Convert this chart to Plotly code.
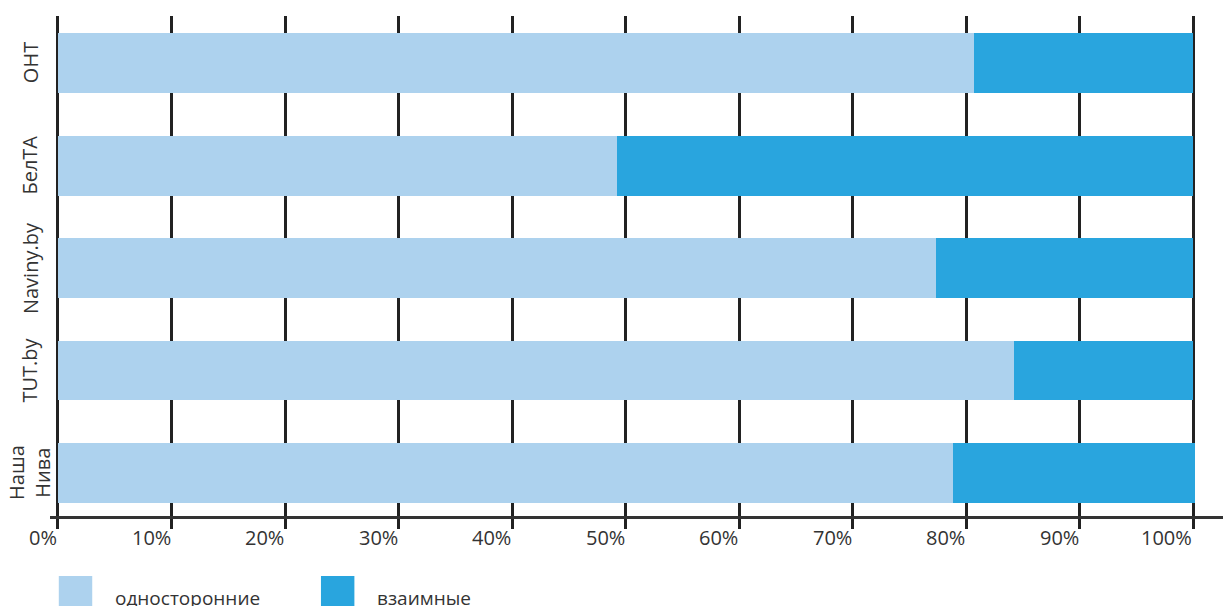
import plotly.graph_objects as go

categories = ["Наша<br>Нива", "TUT.by", "Naviny.by", "БелТА", "ОНТ"]
one_way = [78.8, 84.2, 77.3, 49.2, 80.7]
mutual = [21.3, 15.8, 22.7, 50.8, 19.3]
series_names = ["односторонние", "взаимные"]
colors = ["#ADD2EE", "#29A5DE"]
tick_vals = [0, 10, 20, 30, 40, 50, 60, 70, 80, 90, 100]
tick_text = ["0%", "10%", "20%", "30%", "40%", "50%", "60%", "70%", "80%", "90%", "100%"]

FONT = "Open Sans"
TXT = "#333333"

fig = go.Figure()
for name, vals, col in zip(series_names, [one_way, mutual], colors):
    fig.add_trace(go.Bar(
        y=categories, x=vals, name=name, orientation="h",
        marker=dict(color=col, line=dict(width=0)), showlegend=False,
    ))

# x tick labels right-aligned to tick positions
for v, t in zip(tick_vals, tick_text):
    fig.add_annotation(x=v, y=0, xref="x", yref="paper", text=t, showarrow=False,
                       xanchor="right", yanchor="top", yshift=-6, xshift=1,
                       font=dict(family=FONT, size=20, color=TXT))

# y category labels, rotated and centred
for c in categories:
    fig.add_annotation(x=0, y=c, xref="paper", yref="y", text=c, showarrow=False,
                       textangle=-90, xanchor="center", yanchor="middle", xshift=-20,
                       font=dict(family=FONT, size=20, color=TXT))

# legend drawn manually (large swatches)
legend_x = [0.0075, 0.231]
for name, col, lx in zip(series_names, colors, legend_x):
    fig.add_shape(type="rect", xref="paper", yref="paper",
                  x0=lx, x1=lx + 0.0285, y0=-0.186, y1=-0.12,
                  fillcolor=col, line=dict(width=0))
    fig.add_annotation(x=lx + 0.046, y=-0.164, xref="paper", yref="paper",
                       text=name, showarrow=False, xanchor="left", yanchor="middle",
                       font=dict(family=FONT, size=19, color=TXT))

fig.update_layout(
    barmode="stack",
    bargap=0.415,
    width=1223, height=606,
    margin=dict(l=50, r=0, t=16, b=90),
    plot_bgcolor="white", paper_bgcolor="white",
    font=dict(family=FONT, size=20, color=TXT),
    xaxis=dict(
        range=[-0.7, 102.6], tickvals=tick_vals, showticklabels=False,
        showgrid=True, gridcolor="#222222", gridwidth=3,
        ticks="outside", ticklen=10, tickwidth=3, tickcolor="#222222",
        showline=True, linecolor="#333333", linewidth=2.5,
        zeroline=False, fixedrange=True, automargin=False,
    ),
    yaxis=dict(
        range=[-0.42, 4.46], showgrid=False, zeroline=False,
        showline=False, ticks="", showticklabels=False, automargin=False,
    ),
)

fig.write_html("out.html", config={"displayModeBar": False},
               post_script="document.body.style.margin='0';document.body.style.overflow='hidden';")
